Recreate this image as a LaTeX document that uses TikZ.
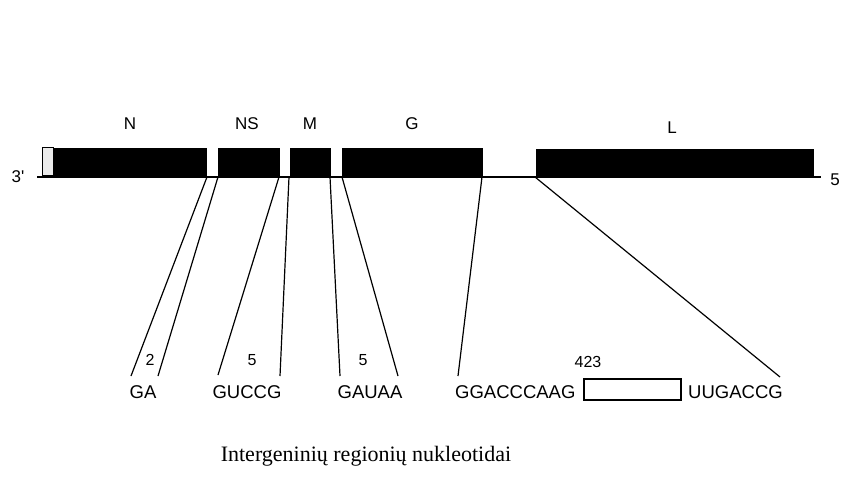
\documentclass[tikz,border=0pt]{standalone}
\usepackage{fontspec}
\setmainfont{Liberation Serif}
\newfontfamily\labfont{Liberation Sans}
\begin{document}
\begin{tikzpicture}[x=1pt,y=-1pt,
  gene/.style={fill=black,draw=black,line width=0.8pt},
  leader/.style={fill=black!8,draw=black,line width=1pt},
  conn/.style={draw=black,line width=1.2pt},
  glabel/.style={font=\labfont\fontsize{17}{17}\selectfont,inner sep=0pt},
  seq/.style={font=\labfont\fontsize{18.5}{18.5}\selectfont,inner sep=0pt},
  num/.style={font=\labfont\fontsize{16}{16}\selectfont,inner sep=0pt}]
\useasboundingbox (0,0) rectangle (841,481);
% baseline
\coordinate (b3) at (37,177);
\coordinate (b5) at (821,177);
\draw[conn] (b3) -- (b5);
% gene boxes
\draw[leader] (42,148) rectangle (53,176);
\draw[gene] (53,148) rectangle (206,176);
\draw[gene] (218,148) rectangle (279,176);
\draw[gene] (290,148) rectangle (330,176);
\draw[gene] (342,148) rectangle (482,176);
\draw[gene] (536,149) rectangle (813,176);
% gene labels
\node[glabel] (N) at (130,124) {N};
\node[glabel] (NS) at (247,124) {NS};
\node[glabel] (M) at (310,124) {M};
\node[glabel] (G) at (412,124) {G};
\node[glabel] (L) at (672,128) {L};
\node[glabel] (p3) at (18,177) {3'};
\node[glabel] (p5) at (835,180) {5};
% upper ends of connectors
\coordinate (t1) at (207,177);
\coordinate (t2) at (218,177);
\coordinate (t3) at (279,177);
\coordinate (t4) at (289,177);
\coordinate (t5) at (330,177);
\coordinate (t6) at (342,177);
\coordinate (t7) at (482,177);
\coordinate (t8) at (535,177);
% lower ends
\coordinate (u1) at (131,376);
\coordinate (u2) at (158,376);
\coordinate (u3) at (218,375);
\coordinate (u4) at (280,376);
\coordinate (u5) at (340,376);
\coordinate (u6) at (398,376);
\coordinate (u7) at (458,376);
\coordinate (u8) at (780,377);
\foreach \i in {1,...,8} {\draw[conn] (t\i) -- (u\i);}
% numbers
\node[num] (n2) at (150,360) {2};
\node[num] (n5a) at (252,360) {5};
\node[num] (n5b) at (363,360) {5};
\node[num] (n423) at (588,362) {423};
% sequences
\node[seq] (GA) at (143,392) {GA};
\node[seq] (GUCCG) at (247,392) {GUCCG};
\node[seq] (GAUAA) at (370,392) {GAUAA};
\node[seq,anchor=west] (GGA) at (455,392) {GGACCCAAG};
\node[draw=black,line width=1.3pt,minimum width=97pt,minimum height=21pt,inner sep=0pt] (gap) at (632.5,389.5) {};
\node[seq,anchor=west] (UUG) at (688,392) {UUGACCG};
% caption
\node[font=\fontsize{22}{22}\selectfont,inner sep=0pt] (cap) at (366,456) {Intergeninių regionių nukleotidai};
\end{tikzpicture}
\end{document}
